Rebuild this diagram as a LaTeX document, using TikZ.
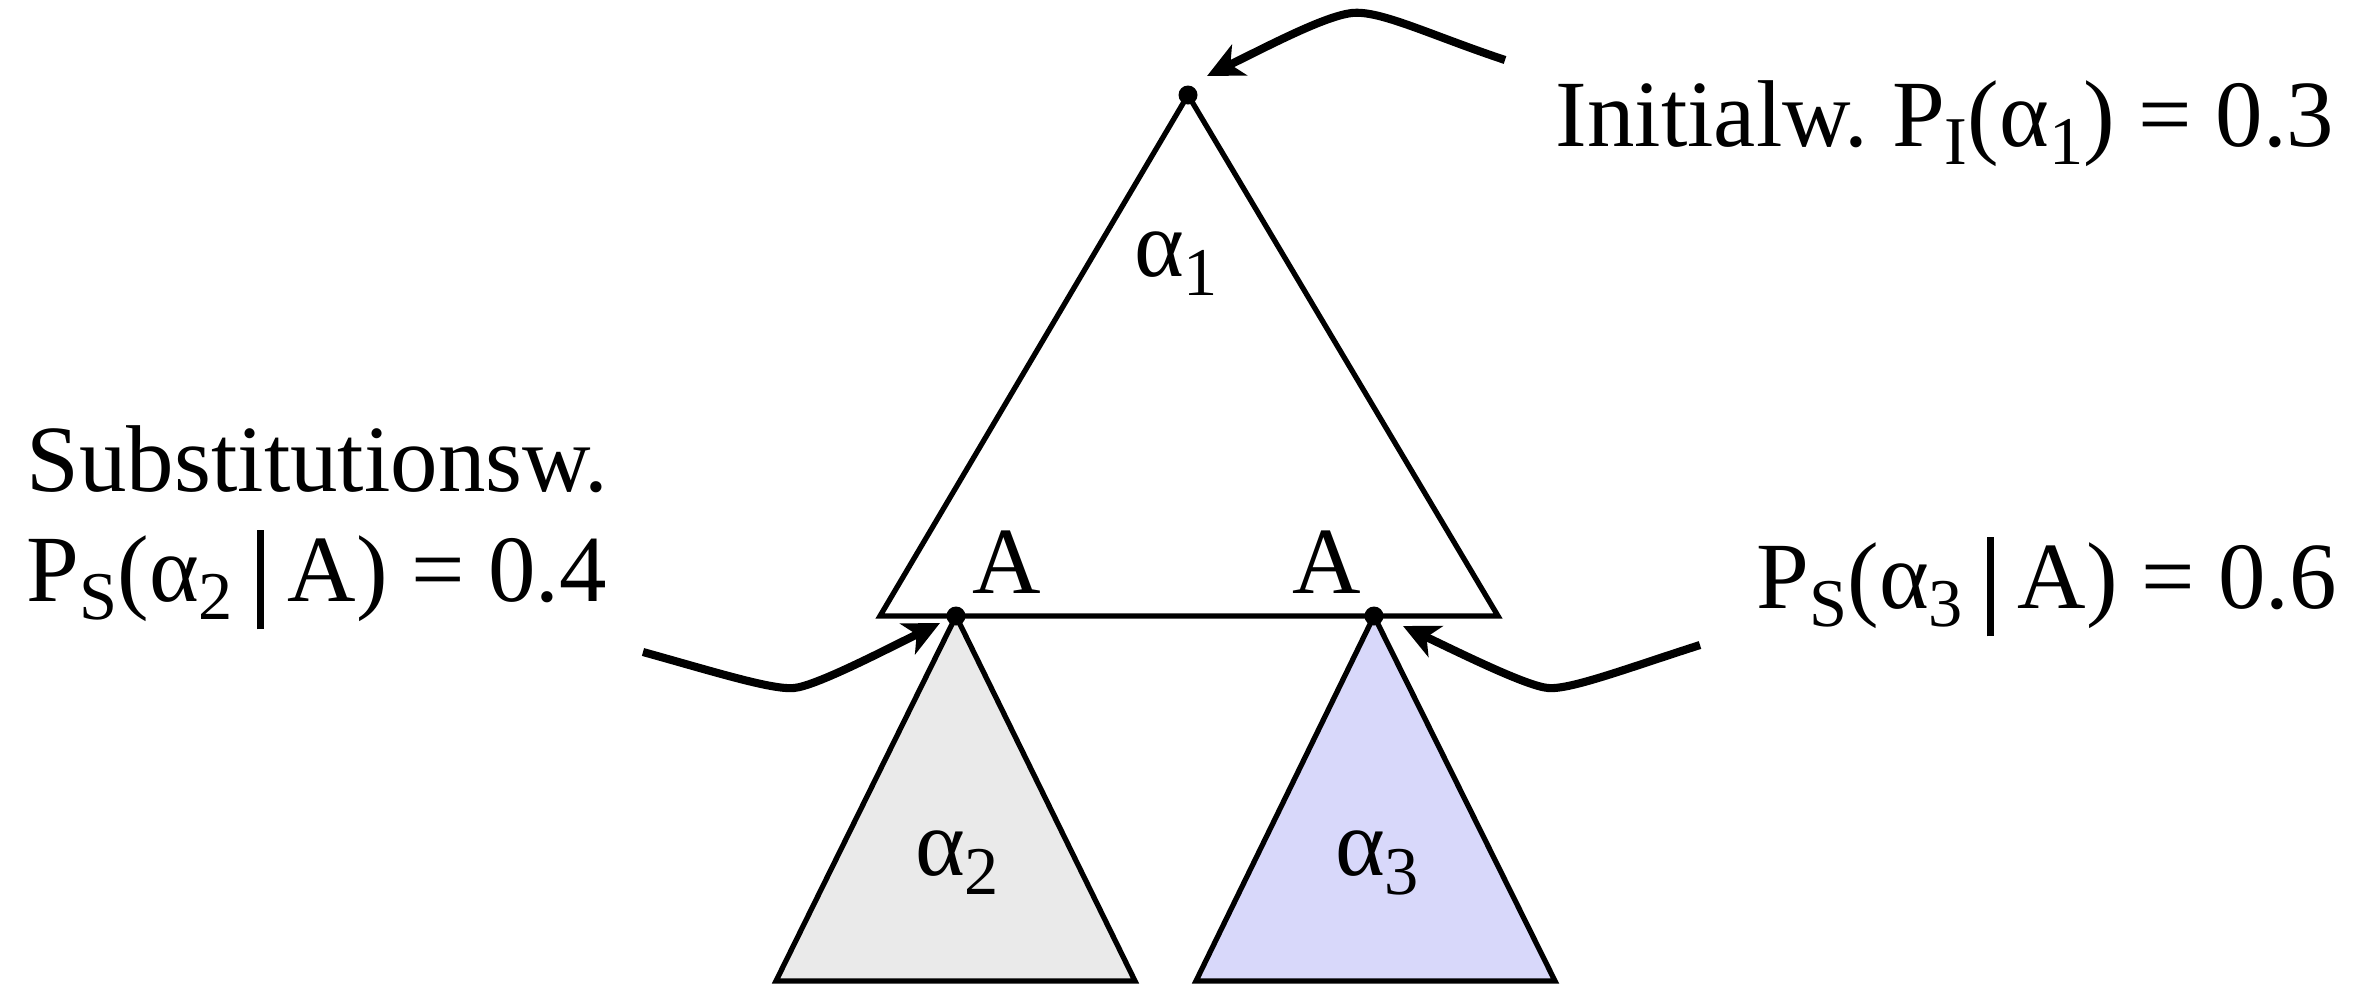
\documentclass[tikz,border=0pt]{standalone}
\usepackage{fontspec}
\setmainfont{Liberation Serif}
\usepackage{graphicx}
\usetikzlibrary{arrows.meta}
\frenchspacing
\newcommand{\lowsub}[1]{\raisebox{-0.2em}{\scalebox{0.72}{#1}}}
\newcommand{\condbar}{\hspace{0.25em}\rule[-0.3em]{0.075em}{1.05em}\hspace{0.25em}}
\definecolor{greyfill}{RGB}{234,234,234}
\definecolor{lavfill}{RGB}{216,216,250}
\tikzset{
  treeline/.style={line width=1.5pt, line join=miter},
  pointer/.style={line width=2.3pt, -{Stealth[length=0.36cm,width=0.34cm,inset=0.1cm]}},
  lbl/.style={inner sep=0pt, font=\fontsize{27}{32}\selectfont},
  dotmark/.style={circle, fill=black, inner sep=0pt, minimum size=0.19cm}
}
\begin{document}
\begin{tikzpicture}
\useasboundingbox (0,0) rectangle (23.67,-9.84);
% points
\coordinate (top) at (11.88,-0.95);
\coordinate (bl) at (8.80,-6.16);
\coordinate (br) at (14.98,-6.16);
\coordinate (s1) at (9.56,-6.16);
\coordinate (s2) at (13.74,-6.16);
\coordinate (l2) at (7.76,-9.81);
\coordinate (r2) at (11.35,-9.81);
\coordinate (l3) at (11.96,-9.81);
\coordinate (r3) at (15.55,-9.81);
% subtrees
\draw[treeline, fill=greyfill] (s1) -- (l2) -- (r2) -- cycle;
\draw[treeline, fill=lavfill] (s2) -- (l3) -- (r3) -- cycle;
% main tree
\draw[treeline] (top) -- (bl) -- (br) -- cycle;
\node[dotmark] (dtop) at (top) {};
\node[dotmark] (d1) at (s1) {};
\node[dotmark] (d2) at (s2) {};
% tree labels
\node[lbl] (a1) at (11.76,-2.64) {α\lowsub{1}};
\node[lbl] (A1) at (10.07,-5.62) {A};
\node[lbl] (A2) at (13.27,-5.62) {A};
\node[lbl] (a2) at (9.57,-8.63) {α\lowsub{2}};
\node[lbl] (a3) at (13.77,-8.63) {α\lowsub{3}};
% side labels
\node[lbl, anchor=base west] (init) at (15.55,-1.46) {Initialw. P\lowsub{I}(α\lowsub{1}) = 0.3};
\node[lbl, anchor=base west] (subst) at (0.26,-4.91) {Substitutionsw.};
\node[lbl, anchor=base west] (ps2) at (0.26,-6.01) {P\lowsub{S}(α\lowsub{2}\condbar A) = 0.4};
\node[lbl, anchor=base west] (ps3) at (17.56,-6.08) {P\lowsub{S}(α\lowsub{3}\condbar A) = 0.6};
% arrows
\coordinate (st0) at (15.05,-0.60);
\coordinate (tip0) at (12.07,-0.76);
\draw[pointer] (st0) .. controls (14.3,-0.35) and (13.80,-0.10) .. (13.52,-0.13)
  .. controls (13.25,-0.16) and (12.70,-0.45) .. (tip0);
\coordinate (st1) at (6.43,-6.52);
\coordinate (tip1) at (9.40,-6.23);
\draw[pointer] (st1) .. controls (7.15,-6.72) and (7.72,-6.90) .. (7.94,-6.88)
  .. controls (8.16,-6.86) and (8.85,-6.50) .. (tip1);
\coordinate (st2) at (17.00,-6.45);
\coordinate (tip2) at (14.03,-6.26);
\draw[pointer] (st2) .. controls (16.28,-6.68) and (15.70,-6.90) .. (15.48,-6.88)
  .. controls (15.26,-6.86) and (14.58,-6.52) .. (tip2);
\end{tikzpicture}
\end{document}
